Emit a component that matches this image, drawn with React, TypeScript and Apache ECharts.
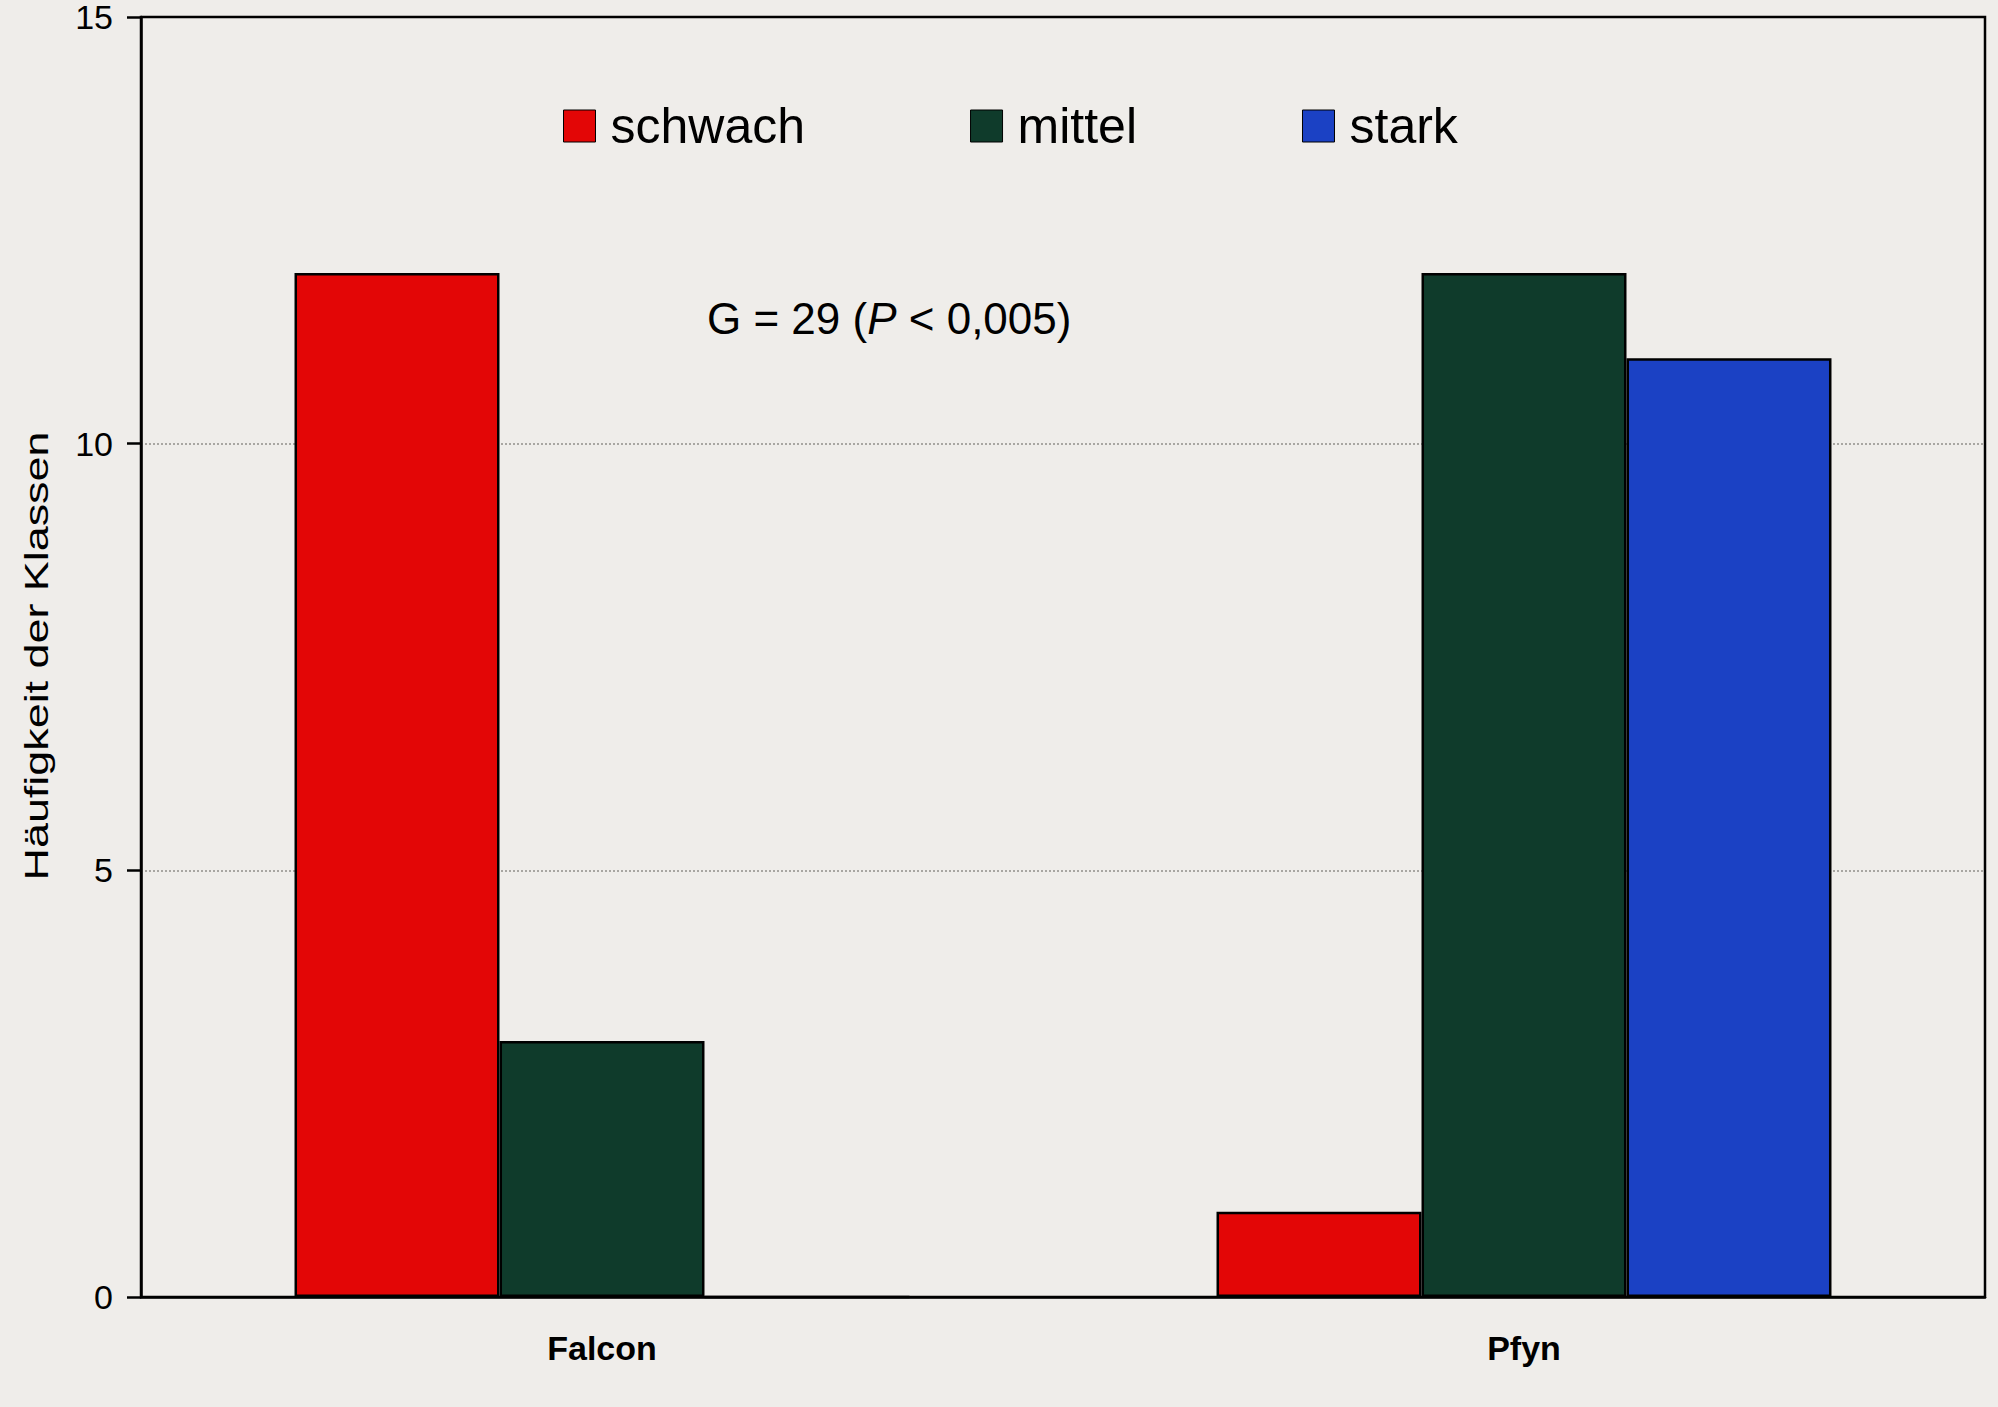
import React, { useEffect, useRef } from "react";
import * as echarts from "echarts";

const categories = ["Falcon", "Pfyn"];
const seriesNames = ["schwach", "mittel", "stark"];
const schwach = [12, 1];
const mittel = [3, 12];
const stark = [0, 11];
const yTicks = { min: 0, max: 15, interval: 5 };
const yAxisTitle = "Häufigkeit der Klassen";
const annotation = "G = 29 ({i|P} < 0,005)";
const colors = ["#e30606", "#0f3b2b", "#1b41c4"];

export default function App() {
  const ref = useRef<HTMLDivElement>(null);
  useEffect(() => {
    document.body.style.margin = "0";
    const chart = echarts.init(ref.current!, null, { renderer: "svg" });
    const font = "Liberation Sans, Arial, sans-serif";
    const values = [schwach, mittel, stark];
    chart.setOption({
      animation: false,
      backgroundColor: "#efedea",
      textStyle: { fontFamily: font, color: "#000" },
      legend: {
        left: 558,
        top: 96,
        itemWidth: 32,
        itemHeight: 32,
        itemGap: 165,
        icon: "rect",
        data: seriesNames,
        textStyle: { fontSize: 50, color: "#000", fontFamily: font, padding: [0, 0, 0, 10] },
        itemStyle: { borderColor: "#000", borderWidth: 1 },
      },
      grid: {
        left: 141,
        top: 10,
        right: 13,
        bottom: 110,
        show: true,
        borderColor: "#000",
        borderWidth: 2.5,
        backgroundColor: "transparent",
      },
      xAxis: {
        type: "category",
        data: categories,
        axisLine: { lineStyle: { color: "#000", width: 2.5 } },
        axisTick: { show: false },
        axisLabel: { fontSize: 34, fontWeight: "bold", color: "#000", margin: 34, fontFamily: font },
      },
      yAxis: {
        type: "value",
        min: yTicks.min,
        max: yTicks.max,
        interval: yTicks.interval,
        axisLine: { show: true, lineStyle: { color: "#000", width: 2.5 } },
        axisTick: { show: true, length: 14, lineStyle: { color: "#000", width: 2.5 } },
        axisLabel: { fontSize: 34, color: "#000", margin: 28, fontFamily: font },
        splitLine: {
          show: true,
          showMinLine: false,
          showMaxLine: false,
          lineStyle: { color: "#a8a6a2", type: "dotted", width: 2 },
        },
      },
      series: seriesNames.map((name, i) => ({
        name,
        type: "bar",
        data: values[i],
        barGap: "0%",
        barCategoryGap: "33.3%",
        itemStyle: { color: colors[i], borderColor: "#000", borderWidth: 2.5 },
      })),
      graphic: [
        {
          type: "text",
          left: 707,
          top: 296,
          style: {
            text: annotation,
            fontSize: 44,
            fontFamily: font,
            fill: "#000",
            rich: { i: { fontStyle: "italic", fontSize: 44, fontFamily: font, fill: "#000" } },
          },
        },
        {
          type: "text",
          x: 36,
          y: 656,
          rotation: Math.PI / 2,
          scaleX: 1.36,
          style: {
            text: yAxisTitle,
            fontSize: 33,
            fontFamily: font,
            fill: "#000",
            align: "center",
            verticalAlign: "middle",
          },
        },
      ],
    });
    return () => chart.dispose();
  }, []);
  return (
    <div
      ref={ref}
      style={{ position: "fixed", left: 0, top: 0, width: 1998, height: 1407 }}
    />
  );
}
